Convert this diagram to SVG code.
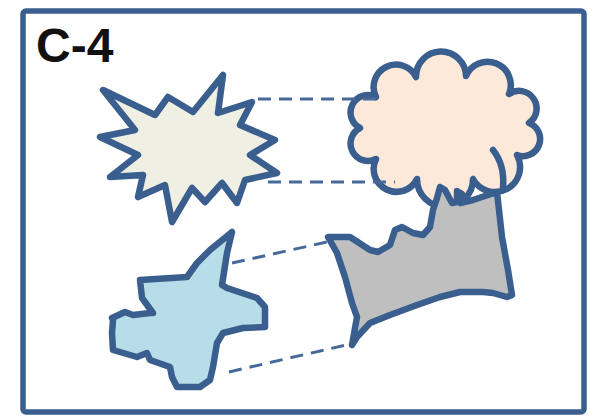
<svg xmlns="http://www.w3.org/2000/svg" width="598" height="419" viewBox="0 0 598 419">
<style>
.shape{stroke:#3A5F8F;stroke-width:6.5;stroke-linejoin:round;stroke-linecap:round}
.conn{fill:none;stroke:#47699A;stroke-width:3;stroke-dasharray:13 8}
.title{font-family:"Liberation Sans",Arial,sans-serif;font-weight:bold;font-size:48px;fill:#111}
</style>
<rect x="0" y="0" width="598" height="419" fill="#fff"/>
<g id="frame">
<rect x="23" y="11" width="561" height="401" rx="3" fill="#fff" stroke="#3A5F8F" stroke-width="5.5"/>
<text class="title" x="36" y="62">C-4</text>
</g>
<g id="star">
<path class="shape" fill="#EFF0E3" d="M103,90 L155,115 L168,97 L193,112 L223,75 L218,113 L252,102 L240,125 L275,140 L250,155 L277,173 L245,180 L237,203 L222,183 L205,202 L192,188 L172,222 L165,185 L138,197 L143,175 L110,177 L138,155 L100,137 L135,130 Z"/>
</g>
<g id="cloud">
<path class="shape" fill="#FDE9D9" d="M360,128 A10,10 0 0 1 376,97 A10,10 0 0 1 416,77 A10,10 0 0 1 466,76 A10,10 0 0 1 509,94 A10,10 0 0 1 529,123 A10,10 0 0 1 517,155 A10,10 0 0 1 473,179 A10,10 0 0 1 417,179 A10,10 0 0 1 376,159 A10,10 0 0 1 360,128 Z"/>
<path class="shape" fill="none" d="M493,150 Q505,165 503,188"/>
</g>
<g id="gray-shape">
<path class="shape" fill="#BFBFBF" d="M328,237 L350,237 L370,250 L378,252 L390,245 L395,230 L402,227 L413,233 L423,235 L430,227 L433,210 L437,198 L440,187 L445,190 L452,203 L457,202 L457,191 L462,194 L460,203 L473,200 L497,192 L502,237 L508,270 L512,295 L507,297 L493,293 L483,292 L460,292 L440,297 L417,305 L390,315 L370,323 L357,337 L352,345 L357,317 L352,303 L345,277 L337,253 Z"/>
</g>
<g id="blue-shape">
<path class="shape" fill="#B7DDE8" d="M232,232 L227,253 L222,285 L227,288 L257,298 L265,307 L265,327 L243,328 L223,333 L217,343 L213,367 L210,380 L200,387 L177,387 L172,377 L170,367 L150,360 L147,353 L137,357 L113,350 L112,333 L113,320 L112,318 L125,312 L133,315 L150,313 L153,313 L142,298 L140,280 L187,277 L197,263 L210,250 Z"/>
</g>
<g id="connectors">
<line class="conn" x1="258" y1="99" x2="384" y2="99"/>
<line class="conn" x1="268" y1="182" x2="395" y2="182"/>
<line class="conn" x1="232" y1="263" x2="327" y2="242"/>
<line class="conn" x1="229" y1="372" x2="346" y2="345"/>
</g>
</svg>
